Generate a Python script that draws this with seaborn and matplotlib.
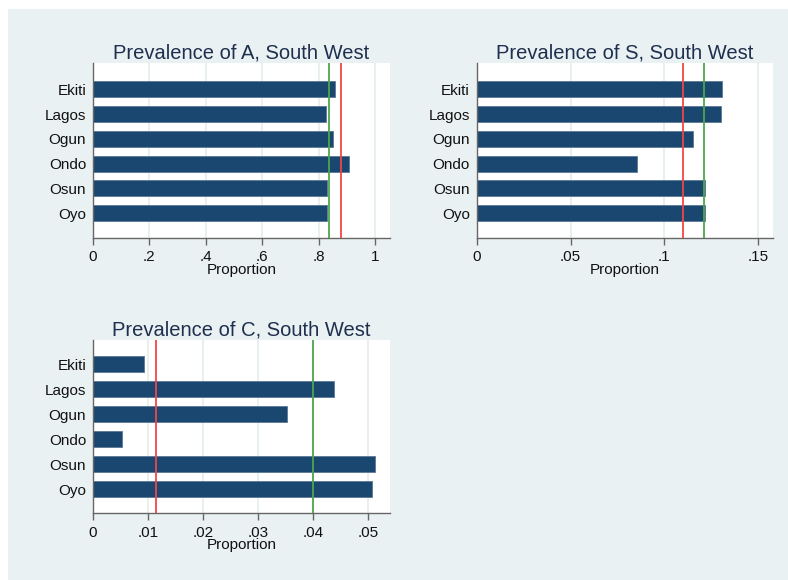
import matplotlib
matplotlib.use("Agg")
import matplotlib.pyplot as plt
import seaborn as sns
import pandas as pd
from matplotlib.patches import Rectangle

# Data
states = ["Ekiti", "Lagos", "Ogun", "Ondo", "Osun", "Oyo"]
prev_a = [0.858, 0.826, 0.850, 0.909, 0.828, 0.828]
prev_s = [0.1308, 0.1301, 0.1155, 0.0852, 0.1214, 0.1219]
prev_c = [0.0092, 0.0438, 0.0353, 0.0053, 0.0511, 0.0507]

# reference lines (green, red) per panel
lines_a = [0.838, 0.878]
lines_s = [0.1209, 0.1097]
lines_c = [0.0399, 0.0115]

ticks_a = [0, 0.2, 0.4, 0.6, 0.8, 1.0]
ticks_s = [0, 0.05, 0.1, 0.15]
ticks_c = [0, 0.01, 0.02, 0.03, 0.04, 0.05]

bg = "#eaf1f3"
bar_color = "#1a476f"
green = "#4ca64c"
red = "#f24545"
title_color = "#1e2f4f"

sns.set_theme(style="white")
plt.rcParams["font.family"] = ["Liberation Sans", "DejaVu Sans"]

fig = plt.figure(figsize=(7.88, 5.80), dpi=100)
fig.patch.set_facecolor("white")
fig.patches.append(Rectangle((8 / 788, 0), 1, 1 - 9 / 580, transform=fig.transFigure,
                             facecolor=bg, edgecolor="none", zorder=-10))


def tick_label(v):
    if v == 0:
        return "0"
    s = ("%g" % v)
    return s[1:] if s.startswith("0.") else s


def panel(rect, values, lines, ticks, xmax, title, ylim):
    ax = fig.add_axes(rect)
    ax.set_facecolor("white")
    df = pd.DataFrame({"state": states, "value": values})
    for t in ticks:
        ax.axvline(t, color="#e4ecef", lw=1.2, zorder=0)
    sns.barplot(data=df, x="value", y="state", orient="h", color=bar_color,
                width=0.64, saturation=1, ax=ax, zorder=2,
                edgecolor="#5a7896", linewidth=0.6)
    ax.axvline(lines[0], color=green, lw=1.3, zorder=3)
    ax.axvline(lines[1], color=red, lw=1.3, zorder=3)
    ax.set_xlim(0, xmax)
    ax.set_ylim(*ylim)
    ax.set_xticks(ticks)
    ax.set_xticklabels([tick_label(t) for t in ticks])
    ax.tick_params(axis="x", length=5, width=1, color="#666666", labelsize=11,
                   pad=4, direction="out", bottom=True, labelcolor="#111111")
    ax.tick_params(axis="y", length=0, labelsize=11, pad=5, labelcolor="#111111")
    ax.set_xlabel("Proportion", fontsize=11, labelpad=-1, color="#111111")
    ax.set_ylabel("")
    ax.set_title(title, fontsize=14.5, color=title_color, pad=3)
    for side in ["top", "right"]:
        ax.spines[side].set_visible(False)
    for side in ["left", "bottom"]:
        ax.spines[side].set_color("#666666")
        ax.spines[side].set_linewidth(1)
    return ax


panel([0.1180, 0.5897, 0.3769, 0.3017], prev_a, lines_a, ticks_a, 1.053,
      "Prevalence of A, South West", (6.0, -1.06))
panel([0.6049, 0.5897, 0.3764, 0.3017], prev_s, lines_s, ticks_s, 0.158,
      "Prevalence of S, South West", (6.0, -1.06))
panel([0.1180, 0.1155, 0.3769, 0.2983], prev_c, lines_c, ticks_c, 0.0539,
      "Prevalence of C, South West", (5.96, -0.98))

fig.savefig("out.png", dpi=100, facecolor=fig.get_facecolor())
